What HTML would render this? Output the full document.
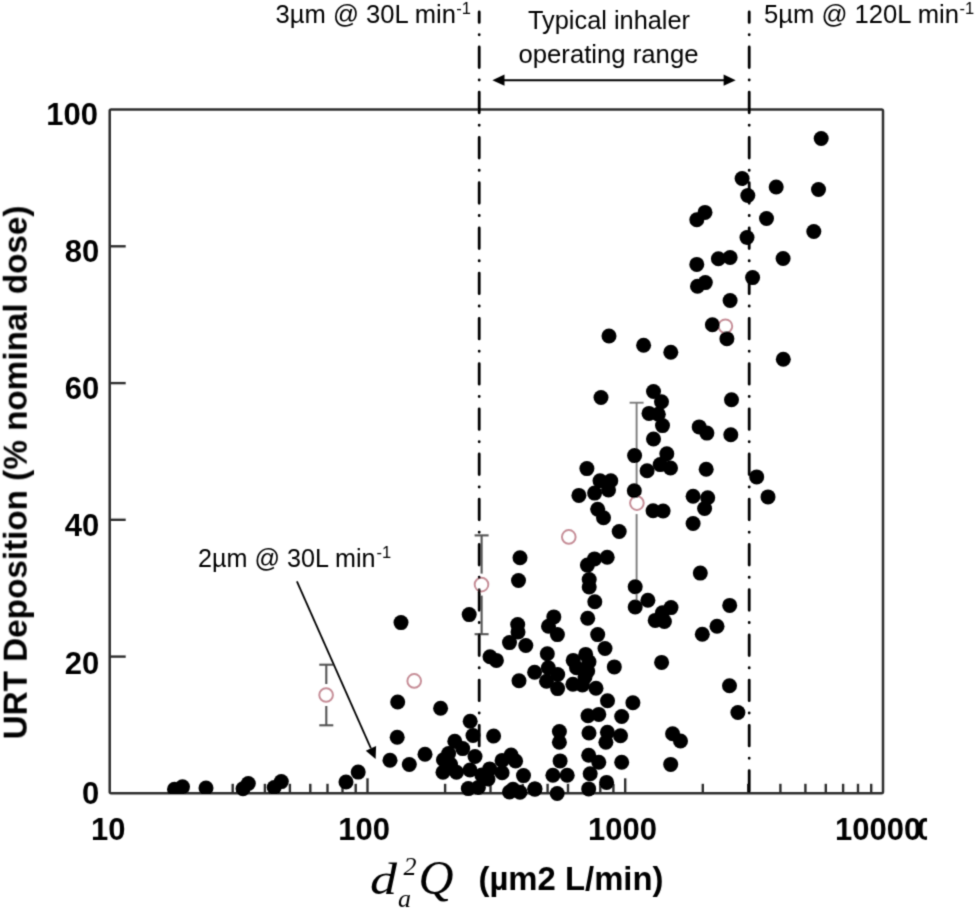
<!DOCTYPE html><html><head><meta charset="utf-8"><style>html,body{margin:0;padding:0;background:#fff;}svg{display:block;}text{font-family:"Liberation Sans",sans-serif;filter:grayscale(1);} text.ser{font-family:"Liberation Serif",serif;font-style:italic;}</style></head><body><div id="w">
<svg width="977" height="910" viewBox="0 0 977 910">
<rect width="977" height="910" fill="#fff"/>
<filter id="bl" x="-2%" y="-2%" width="104%" height="104%"><feConvolveMatrix order="3" kernelMatrix="0.0276 0.111 0.0276 0.111 0.446 0.111 0.0276 0.111 0.0276" divisor="1" edgeMode="duplicate"/></filter>
<g filter="url(#bl)">
<rect x="109.7" y="109.6" width="773.3" height="683.7" fill="none" stroke="#2e2e2e" stroke-width="2.5" rx="1.5"/>
<line x1="109.7" y1="656.6" x2="125.7" y2="656.6" stroke="#2e2e2e" stroke-width="2.4"/>
<line x1="109.7" y1="519.8" x2="125.7" y2="519.8" stroke="#2e2e2e" stroke-width="2.4"/>
<line x1="109.7" y1="383.1" x2="125.7" y2="383.1" stroke="#2e2e2e" stroke-width="2.4"/>
<line x1="109.7" y1="246.3" x2="125.7" y2="246.3" stroke="#2e2e2e" stroke-width="2.4"/>
<line x1="187.3" y1="793.3" x2="187.3" y2="783.8" stroke="#2e2e2e" stroke-width="2.4"/>
<line x1="232.7" y1="793.3" x2="232.7" y2="783.8" stroke="#2e2e2e" stroke-width="2.4"/>
<line x1="264.9" y1="793.3" x2="264.9" y2="783.8" stroke="#2e2e2e" stroke-width="2.4"/>
<line x1="289.9" y1="793.3" x2="289.9" y2="783.8" stroke="#2e2e2e" stroke-width="2.4"/>
<line x1="310.3" y1="793.3" x2="310.3" y2="783.8" stroke="#2e2e2e" stroke-width="2.4"/>
<line x1="327.5" y1="793.3" x2="327.5" y2="783.8" stroke="#2e2e2e" stroke-width="2.4"/>
<line x1="342.5" y1="793.3" x2="342.5" y2="783.8" stroke="#2e2e2e" stroke-width="2.4"/>
<line x1="355.7" y1="793.3" x2="355.7" y2="783.8" stroke="#2e2e2e" stroke-width="2.4"/>
<line x1="445.1" y1="793.3" x2="445.1" y2="783.8" stroke="#2e2e2e" stroke-width="2.4"/>
<line x1="490.5" y1="793.3" x2="490.5" y2="783.8" stroke="#2e2e2e" stroke-width="2.4"/>
<line x1="522.7" y1="793.3" x2="522.7" y2="783.8" stroke="#2e2e2e" stroke-width="2.4"/>
<line x1="547.6" y1="793.3" x2="547.6" y2="783.8" stroke="#2e2e2e" stroke-width="2.4"/>
<line x1="568.0" y1="793.3" x2="568.0" y2="783.8" stroke="#2e2e2e" stroke-width="2.4"/>
<line x1="585.3" y1="793.3" x2="585.3" y2="783.8" stroke="#2e2e2e" stroke-width="2.4"/>
<line x1="600.3" y1="793.3" x2="600.3" y2="783.8" stroke="#2e2e2e" stroke-width="2.4"/>
<line x1="613.4" y1="793.3" x2="613.4" y2="783.8" stroke="#2e2e2e" stroke-width="2.4"/>
<line x1="702.8" y1="793.3" x2="702.8" y2="783.8" stroke="#2e2e2e" stroke-width="2.4"/>
<line x1="748.2" y1="793.3" x2="748.2" y2="783.8" stroke="#2e2e2e" stroke-width="2.4"/>
<line x1="780.4" y1="793.3" x2="780.4" y2="783.8" stroke="#2e2e2e" stroke-width="2.4"/>
<line x1="805.4" y1="793.3" x2="805.4" y2="783.8" stroke="#2e2e2e" stroke-width="2.4"/>
<line x1="825.8" y1="793.3" x2="825.8" y2="783.8" stroke="#2e2e2e" stroke-width="2.4"/>
<line x1="843.1" y1="793.3" x2="843.1" y2="783.8" stroke="#2e2e2e" stroke-width="2.4"/>
<line x1="858.0" y1="793.3" x2="858.0" y2="783.8" stroke="#2e2e2e" stroke-width="2.4"/>
<line x1="871.2" y1="793.3" x2="871.2" y2="783.8" stroke="#2e2e2e" stroke-width="2.4"/>
<line x1="367.5" y1="793.3" x2="367.5" y2="778.3" stroke="#2e2e2e" stroke-width="2.4"/>
<line x1="625.2" y1="793.3" x2="625.2" y2="778.3" stroke="#2e2e2e" stroke-width="2.4"/>
<text x="98.0" y="125.1" font-size="31" font-weight="bold" text-anchor="end">100</text>
<text x="99.3" y="262.2" font-size="31" font-weight="bold" text-anchor="end">80</text>
<text x="99.3" y="398.8" font-size="31" font-weight="bold" text-anchor="end">60</text>
<text x="99.3" y="535.5" font-size="31" font-weight="bold" text-anchor="end">40</text>
<text x="99.3" y="674.1" font-size="31" font-weight="bold" text-anchor="end">20</text>
<text x="99.3" y="803.5" font-size="31" font-weight="bold" text-anchor="end">0</text>
<text x="108.3" y="839.8" font-size="31" font-weight="bold" text-anchor="middle">10</text>
<text x="364.1" y="839.8" font-size="31" font-weight="bold" text-anchor="middle">100</text>
<text x="622.5" y="839.8" font-size="31" font-weight="bold" text-anchor="middle">1000</text>
<svg x="0" y="800" width="927" height="60" overflow="hidden"><text x="835" y="39.8" font-size="31" font-weight="bold">10000</text><text x="917" y="39.8" font-size="31" font-weight="bold">0</text></svg>
<text transform="translate(26.7,739.4) rotate(-90)" font-size="33" font-weight="bold" textLength="533.9" lengthAdjust="spacingAndGlyphs">URT Deposition (% nominal dose)</text>
<text x="370" y="894.2" class="ser" font-size="45" textLength="27" lengthAdjust="spacingAndGlyphs">d</text>
<text x="403.5" y="875.2" class="ser" font-size="26">2</text>
<text x="398" y="907" class="ser" font-size="26">a</text>
<text x="418.5" y="894.2" class="ser" font-size="48.5">Q</text>
<text x="478.5" y="889.5" font-size="32.5" font-weight="bold" textLength="185" lengthAdjust="spacingAndGlyphs">(µm2 L/min)</text>
<line x1="326.3" y1="664.7" x2="326.3" y2="684" stroke="#545454" stroke-width="2.1"/>
<line x1="326.3" y1="706" x2="326.3" y2="725.3" stroke="#545454" stroke-width="2.1"/>
<line x1="319.3" y1="664.7" x2="333.3" y2="664.7" stroke="#545454" stroke-width="2.1"/>
<line x1="319.3" y1="725.3" x2="333.3" y2="725.3" stroke="#545454" stroke-width="2.1"/>
<line x1="481.6" y1="535.4" x2="481.6" y2="573.6" stroke="#545454" stroke-width="2.1"/>
<line x1="481.6" y1="595.6" x2="481.6" y2="634.2" stroke="#545454" stroke-width="2.1"/>
<line x1="474.6" y1="535.4" x2="488.6" y2="535.4" stroke="#545454" stroke-width="2.1"/>
<line x1="474.6" y1="634.2" x2="488.6" y2="634.2" stroke="#545454" stroke-width="2.1"/>
<line x1="636.6" y1="402.7" x2="636.6" y2="492.1" stroke="#7c7c7c" stroke-width="1.9"/>
<line x1="636.6" y1="514.1" x2="636.6" y2="603" stroke="#7c7c7c" stroke-width="1.9"/>
<line x1="629.6" y1="402.7" x2="643.6" y2="402.7" stroke="#7c7c7c" stroke-width="1.9"/>
<circle cx="326.1" cy="695" r="6.8" fill="#fff" stroke="#c68c96" stroke-width="2"/>
<circle cx="414.2" cy="680.9" r="6.8" fill="#fff" stroke="#c68c96" stroke-width="2"/>
<circle cx="481.5" cy="584.6" r="6.8" fill="#fff" stroke="#c68c96" stroke-width="2"/>
<circle cx="568.8" cy="536.9" r="6.8" fill="#fff" stroke="#c68c96" stroke-width="2"/>
<circle cx="636.9" cy="503.1" r="6.8" fill="#fff" stroke="#c68c96" stroke-width="2"/>
<circle cx="725.4" cy="326.2" r="6.8" fill="#fff" stroke="#c68c96" stroke-width="2"/>
<line x1="479.2" y1="11.9" x2="479.2" y2="793.3" stroke="#000" stroke-width="2.8" stroke-linecap="round" stroke-dasharray="20.6 12.21 0.2 12.21" stroke-dashoffset="10.1"/>
<line x1="749.2" y1="11.9" x2="749.2" y2="793.3" stroke="#000" stroke-width="2.8" stroke-linecap="round" stroke-dasharray="20.6 12.21 0.2 12.21" stroke-dashoffset="10.1"/>
<clipPath id="pc"><rect x="0" y="0" width="977" height="794"/></clipPath>
<g fill="#000" clip-path="url(#pc)">
<circle cx="174.5" cy="789.3" r="7.5"/>
<circle cx="182.5" cy="786.8" r="7.5"/>
<circle cx="206" cy="788" r="7.5"/>
<circle cx="274.2" cy="787.6" r="7.5"/>
</g>
<g fill="#000">
<circle cx="243" cy="788.8" r="7.5"/>
<circle cx="248.3" cy="783.5" r="7.5"/>
<circle cx="281.3" cy="781.6" r="7.5"/>
<circle cx="346" cy="782" r="7.5"/>
<circle cx="358.2" cy="772.1" r="7.5"/>
<circle cx="401" cy="622.6" r="7.5"/>
<circle cx="397.7" cy="702" r="7.5"/>
<circle cx="397.2" cy="737.3" r="7.5"/>
<circle cx="390" cy="760.2" r="7.5"/>
<circle cx="409.3" cy="764.5" r="7.5"/>
<circle cx="425" cy="754.3" r="7.5"/>
<circle cx="440.6" cy="708.3" r="7.5"/>
<circle cx="469.2" cy="614.6" r="7.5"/>
<circle cx="454.8" cy="741.3" r="7.5"/>
<circle cx="462.7" cy="748.6" r="7.5"/>
<circle cx="473" cy="735.5" r="7.5"/>
<circle cx="493.6" cy="736" r="7.5"/>
<circle cx="470.2" cy="721.2" r="7.5"/>
<circle cx="448.6" cy="753.6" r="7.5"/>
<circle cx="443.5" cy="759.8" r="7.5"/>
<circle cx="450.5" cy="764.3" r="7.5"/>
<circle cx="443" cy="772.2" r="7.5"/>
<circle cx="456.5" cy="772.2" r="7.5"/>
<circle cx="475" cy="756.5" r="7.5"/>
<circle cx="470" cy="770" r="7.5"/>
<circle cx="481.8" cy="775" r="7.5"/>
<circle cx="489.7" cy="768.9" r="7.5"/>
<circle cx="488" cy="779" r="7.5"/>
<circle cx="502.1" cy="760.4" r="7.5"/>
<circle cx="502.1" cy="772.8" r="7.5"/>
<circle cx="511.1" cy="755" r="7.5"/>
<circle cx="515.6" cy="761" r="7.5"/>
<circle cx="523.5" cy="775.6" r="7.5"/>
<circle cx="468.3" cy="788.6" r="7.5"/>
<circle cx="478.4" cy="787.4" r="7.5"/>
<circle cx="509.5" cy="792" r="7.5"/>
<circle cx="513" cy="789.3" r="7.5"/>
<circle cx="520" cy="792.3" r="7.5"/>
<circle cx="534.7" cy="789.1" r="7.5"/>
<circle cx="517.7" cy="624.6" r="7.5"/>
<circle cx="518" cy="632" r="7.5"/>
<circle cx="509.5" cy="642.6" r="7.5"/>
<circle cx="525.8" cy="645.5" r="7.5"/>
<circle cx="490" cy="656.7" r="7.5"/>
<circle cx="496.4" cy="660.4" r="7.5"/>
<circle cx="519" cy="680.8" r="7.5"/>
<circle cx="534.6" cy="672.3" r="7.5"/>
<circle cx="547.3" cy="653.7" r="7.5"/>
<circle cx="548.3" cy="667.8" r="7.5"/>
<circle cx="557.7" cy="674.5" r="7.5"/>
<circle cx="546.5" cy="681.2" r="7.5"/>
<circle cx="557.6" cy="688.6" r="7.5"/>
<circle cx="553.8" cy="616.9" r="7.5"/>
<circle cx="548.5" cy="626.2" r="7.5"/>
<circle cx="557.4" cy="634.6" r="7.5"/>
<circle cx="585.7" cy="654.4" r="7.5"/>
<circle cx="573.2" cy="660.4" r="7.5"/>
<circle cx="589" cy="661.8" r="7.5"/>
<circle cx="576.5" cy="667.7" r="7.5"/>
<circle cx="587.7" cy="671" r="7.5"/>
<circle cx="585" cy="677" r="7.5"/>
<circle cx="572.9" cy="684.2" r="7.5"/>
<circle cx="582.4" cy="684.9" r="7.5"/>
<circle cx="596" cy="688.2" r="7.5"/>
<circle cx="605" cy="648.5" r="7.5"/>
<circle cx="614.3" cy="666.9" r="7.5"/>
<circle cx="597.7" cy="634.6" r="7.5"/>
<circle cx="587.7" cy="618.3" r="7.5"/>
<circle cx="594.8" cy="601.8" r="7.5"/>
<circle cx="589.2" cy="579.6" r="7.5"/>
<circle cx="589.2" cy="587" r="7.5"/>
<circle cx="587.4" cy="565.1" r="7.5"/>
<circle cx="594.5" cy="558.9" r="7.5"/>
<circle cx="607.2" cy="557.2" r="7.5"/>
<circle cx="635.2" cy="586.8" r="7.5"/>
<circle cx="647.9" cy="600.2" r="7.5"/>
<circle cx="635.2" cy="607" r="7.5"/>
<circle cx="655.2" cy="620.4" r="7.5"/>
<circle cx="662.4" cy="612.7" r="7.5"/>
<circle cx="664.4" cy="621.5" r="7.5"/>
<circle cx="671" cy="607.6" r="7.5"/>
<circle cx="661.6" cy="662.4" r="7.5"/>
<circle cx="607.5" cy="700.7" r="7.5"/>
<circle cx="632.9" cy="702.7" r="7.5"/>
<circle cx="588" cy="715.8" r="7.5"/>
<circle cx="598.8" cy="714.4" r="7.5"/>
<circle cx="621.7" cy="716.5" r="7.5"/>
<circle cx="559.4" cy="731.5" r="7.5"/>
<circle cx="559.4" cy="742.3" r="7.5"/>
<circle cx="589" cy="733" r="7.5"/>
<circle cx="607.4" cy="732.3" r="7.5"/>
<circle cx="605.9" cy="742.3" r="7.5"/>
<circle cx="620.5" cy="735.8" r="7.5"/>
<circle cx="560.1" cy="760.9" r="7.5"/>
<circle cx="588.7" cy="755.2" r="7.5"/>
<circle cx="598.8" cy="762.3" r="7.5"/>
<circle cx="590.2" cy="773.8" r="7.5"/>
<circle cx="621.7" cy="762.3" r="7.5"/>
<circle cx="552.9" cy="775.2" r="7.5"/>
<circle cx="567.2" cy="775.2" r="7.5"/>
<circle cx="535" cy="788.9" r="7.5"/>
<circle cx="557.2" cy="793.5" r="7.5"/>
<circle cx="588.7" cy="788.9" r="7.5"/>
<circle cx="606.6" cy="782.4" r="7.5"/>
<circle cx="672.6" cy="733.7" r="7.5"/>
<circle cx="680.5" cy="741" r="7.5"/>
<circle cx="670.7" cy="764.4" r="7.5"/>
<circle cx="702.3" cy="634.2" r="7.5"/>
<circle cx="717" cy="626.3" r="7.5"/>
<circle cx="729.5" cy="685.7" r="7.5"/>
<circle cx="737.9" cy="712.5" r="7.5"/>
<circle cx="729.7" cy="605.4" r="7.5"/>
<circle cx="700.3" cy="573.1" r="7.5"/>
<circle cx="586.9" cy="468.6" r="7.5"/>
<circle cx="600" cy="480.8" r="7.5"/>
<circle cx="610.8" cy="480.8" r="7.5"/>
<circle cx="608.5" cy="490" r="7.5"/>
<circle cx="594.6" cy="493.1" r="7.5"/>
<circle cx="578.9" cy="495.4" r="7.5"/>
<circle cx="597.7" cy="509.2" r="7.5"/>
<circle cx="603.5" cy="517.7" r="7.5"/>
<circle cx="619.2" cy="531.5" r="7.5"/>
<circle cx="634.6" cy="455.6" r="7.5"/>
<circle cx="634.3" cy="490.8" r="7.5"/>
<circle cx="653.5" cy="439" r="7.5"/>
<circle cx="666.8" cy="453.8" r="7.5"/>
<circle cx="647.1" cy="470.8" r="7.5"/>
<circle cx="660.2" cy="464.6" r="7.5"/>
<circle cx="670.5" cy="468" r="7.5"/>
<circle cx="653.1" cy="510.8" r="7.5"/>
<circle cx="663.1" cy="511" r="7.5"/>
<circle cx="706.2" cy="469.2" r="7.5"/>
<circle cx="693.1" cy="496.2" r="7.5"/>
<circle cx="707.7" cy="497.7" r="7.5"/>
<circle cx="704.6" cy="508.5" r="7.5"/>
<circle cx="693.1" cy="523.5" r="7.5"/>
<circle cx="756.7" cy="476.9" r="7.5"/>
<circle cx="768" cy="496.9" r="7.5"/>
<circle cx="520" cy="557.7" r="7.5"/>
<circle cx="518.5" cy="580.5" r="7.5"/>
<circle cx="609" cy="336" r="7.5"/>
<circle cx="643.6" cy="345.3" r="7.5"/>
<circle cx="670.8" cy="352.3" r="7.5"/>
<circle cx="601" cy="397.5" r="7.5"/>
<circle cx="653.5" cy="391.5" r="7.5"/>
<circle cx="661.5" cy="401.8" r="7.5"/>
<circle cx="649" cy="413.4" r="7.5"/>
<circle cx="658.3" cy="414.2" r="7.5"/>
<circle cx="662.5" cy="425.6" r="7.5"/>
<circle cx="699.2" cy="426.9" r="7.5"/>
<circle cx="706.9" cy="433.1" r="7.5"/>
<circle cx="730.8" cy="434.8" r="7.5"/>
<circle cx="731.5" cy="399.8" r="7.5"/>
<circle cx="712.4" cy="324.8" r="7.5"/>
<circle cx="726.9" cy="338.7" r="7.5"/>
<circle cx="730.1" cy="300.5" r="7.5"/>
<circle cx="783.3" cy="359.2" r="7.5"/>
<circle cx="821.2" cy="138.5" r="7.5"/>
<circle cx="742.1" cy="178.5" r="7.5"/>
<circle cx="747.8" cy="195.5" r="7.5"/>
<circle cx="776.2" cy="187" r="7.5"/>
<circle cx="818.5" cy="189.5" r="7.5"/>
<circle cx="705" cy="212.4" r="7.5"/>
<circle cx="696.8" cy="219.7" r="7.5"/>
<circle cx="766.5" cy="218.5" r="7.5"/>
<circle cx="813.8" cy="231.5" r="7.5"/>
<circle cx="747" cy="237.5" r="7.5"/>
<circle cx="718.4" cy="258.8" r="7.5"/>
<circle cx="730.1" cy="257.5" r="7.5"/>
<circle cx="696.8" cy="264.4" r="7.5"/>
<circle cx="783.1" cy="258.5" r="7.5"/>
<circle cx="752.6" cy="277.6" r="7.5"/>
<circle cx="697.5" cy="286.3" r="7.5"/>
<circle cx="705.3" cy="282.6" r="7.5"/>
</g>
<line x1="500" y1="80.2" x2="728" y2="80.2" stroke="#000" stroke-width="2"/>
<path d="M492.4 80.2 L504.5 74.6 L504.5 85.8 Z" fill="#000"/>
<path d="M735.7 80.2 L723.6 74.6 L723.6 85.8 Z" fill="#000"/>
<line x1="296.9" y1="581.3" x2="370.9" y2="748.4" stroke="#000" stroke-width="1.8"/>
<path d="M375.6 758.9 L365.8 750.7 L376.1 746.1 Z" fill="#000"/>
<text x="275.5" y="22.9" font-size="25" textLength="180.5" lengthAdjust="spacingAndGlyphs">3µm @ 30L min</text>
<text x="456.2" y="14.299999999999999" font-size="16.5">-1</text>
<text x="764" y="22.5" font-size="25" textLength="195" lengthAdjust="spacingAndGlyphs">5µm @ 120L min</text>
<text x="959.5" y="13.9" font-size="16.5">-1</text>
<text x="198" y="566.5" font-size="25" textLength="177.5" lengthAdjust="spacingAndGlyphs">2µm @ 30L min</text>
<text x="376.5" y="557.9" font-size="16.5">-1</text>
<text x="528" y="29.3" font-size="25" textLength="162" lengthAdjust="spacingAndGlyphs">Typical inhaler</text>
<text x="518.5" y="63" font-size="25" textLength="180" lengthAdjust="spacingAndGlyphs">operating range</text>
</g></svg></div></body></html>
